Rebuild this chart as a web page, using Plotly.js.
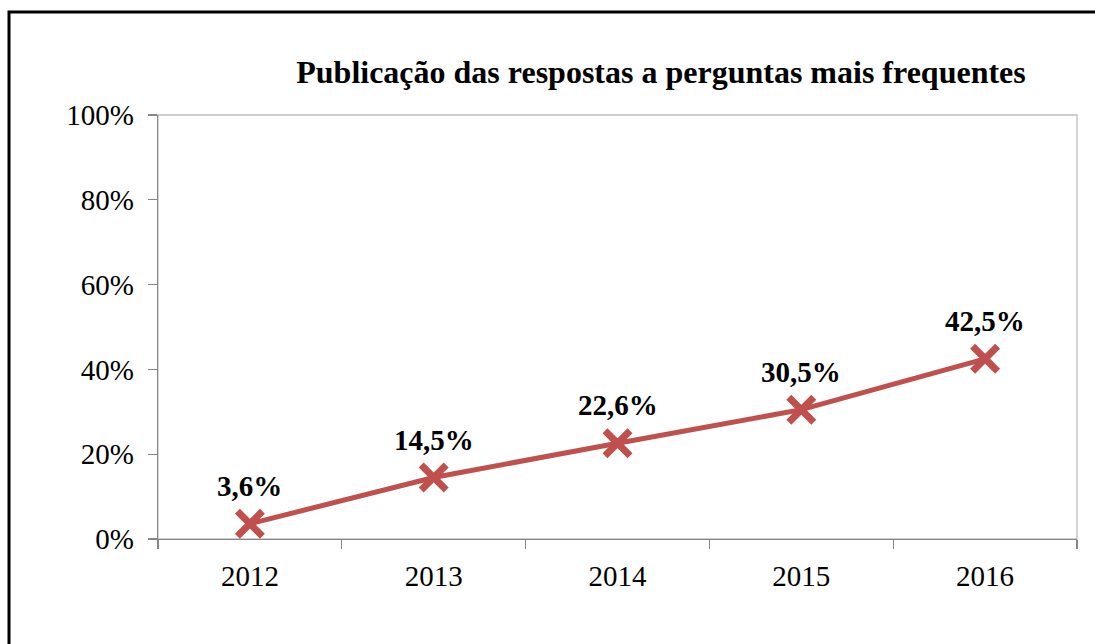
<!DOCTYPE html>
<html>
<head>
<meta charset="utf-8">
<script src="https://cdn.plot.ly/plotly-3.0.1.min.js"></script>
<style>
html,body{margin:0;padding:0;background:#fff;}
#chart{width:1095px;height:644px;}
</style>
</head>
<body>
<div id="chart"></div>
<script>
var years = ['2012', '2013', '2014', '2015', '2016'];
var values = [3.6, 14.5, 22.6, 30.5, 42.5];
var valueLabels = ['3,6%', '14,5%', '22,6%', '30,5%', '42,5%'];
var yTickVals = [0, 20, 40, 60, 80, 100];
var yTickLabels = ['0%', '20%', '40%', '60%', '80%', '100%'];
var chartTitle = 'Publicação das respostas a perguntas mais frequentes';

var W = 1095, H = 644;
var L = 158, R = 18, T = 115, B = 105;
var pw = W - L - R, ph = H - T - B;
function px(x){ return (x - L) / pw; }
function py(y){ return (H - B - y) / ph; }

var serif = 'Liberation Serif, Times New Roman, serif';

var trace = {
  x: years,
  y: values,
  type: 'scatter',
  mode: 'lines+markers',
  line: {color: '#C0504D', width: 5},
  marker: {symbol: 'x-thin', size: 25, color: '#C0504D', line: {color: '#C0504D', width: 7}},
  cliponaxis: false,
  hoverinfo: 'skip'
};

var annotations = years.map(function(yr, i){
  return {
    x: i, y: values[i], xref: 'x', yref: 'y',
    text: valueLabels[i], showarrow: false,
    xanchor: 'center', yanchor: 'middle', yshift: 38,
    font: {family: serif, size: 29, color: '#000', weight: 'bold'}
  };
});

var layout = {
  width: W, height: H,
  margin: {l: L, r: R, t: T, b: B, pad: 0},
  paper_bgcolor: '#fff',
  plot_bgcolor: '#fff',
  showlegend: false,
  font: {family: serif, color: '#000', size: 29},
  title: {
    text: chartTitle,
    font: {family: serif, size: 32, color: '#000', weight: 'bold'},
    x: 661 / W, xref: 'container', xanchor: 'center',
    y: 1 - 72 / H, yref: 'container', yanchor: 'middle'
  },
  xaxis: {
    type: 'category',
    range: [-0.5, 4.5],
    autorange: false,
    tickson: 'boundaries',
    ticks: 'outside', ticklen: 9, tickwidth: 1.3, tickcolor: '#868686',
    showline: true, linecolor: '#868686', linewidth: 1.3,
    showgrid: false, zeroline: false,
    tickfont: {family: serif, size: 29, color: '#000'},
    ticklabelstandoff: 11,
    fixedrange: true
  },
  yaxis: {
    range: [0, 100],
    autorange: false,
    tickmode: 'array',
    tickvals: yTickVals,
    ticktext: yTickLabels,
    ticks: 'outside', ticklen: 9, tickwidth: 1.3, tickcolor: '#868686',
    showline: true, linecolor: '#868686', linewidth: 1.3,
    showgrid: false, zeroline: false,
    tickfont: {family: serif, size: 29, color: '#000'},
    ticklabelstandoff: 8,
    fixedrange: true
  },
  annotations: annotations,
  shapes: [
    {type: 'rect', xref: 'paper', yref: 'paper', x0: 0, x1: 1, y0: 0, y1: 1,
     line: {color: '#BFBFBF', width: 1.3}, layer: 'below'},
    {type: 'path', xref: 'paper', yref: 'paper',
     path: 'M ' + px(9) + ' ' + py(660) + ' L ' + px(9) + ' ' + py(12) + ' L ' + px(1110) + ' ' + py(12),
     line: {color: '#000', width: 3}}
  ]
};

Plotly.newPlot('chart', [trace], layout, {displayModeBar: false, staticPlot: true});
</script>
</body>
</html>
